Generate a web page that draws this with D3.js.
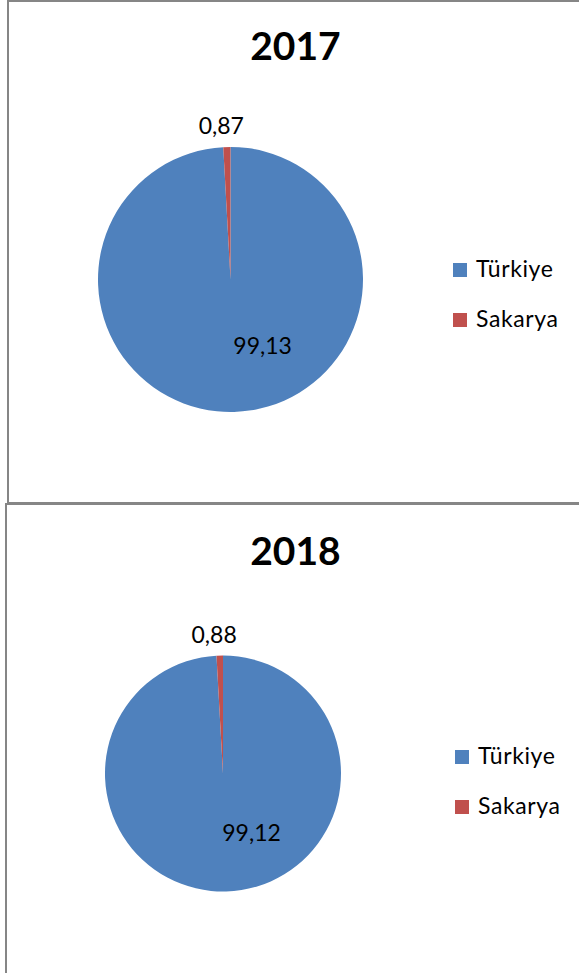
<!DOCTYPE html>
<html>
<head>
<meta charset="utf-8">
<script src="https://cdn.jsdelivr.net/npm/d3@7"></script>
<style>
  html, body { margin: 0; padding: 0; background: #fff; }
  svg { display: block; }
  text { font-family: Lato, "Noto Sans", sans-serif; fill: #000; }
</style>
</head>
<body>
<svg id="chart" width="579" height="973"></svg>
<script>
// Share of Türkiye vs Sakarya, one pie per year
const years = ["2017", "2018"];
const categories = ["Türkiye", "Sakarya"];
const values2017 = [99.13, 0.87];
const values2018 = [99.12, 0.88];
const seriesByYear = [values2017, values2018];
const colors = ["#4F81BD", "#C0504D"];

// Panel frames and pie geometry
const panels = [
  { x: 8, y: 1, w: 600, h: 502, cx: 230.5, cy: 279.5, r: 132.5, titleY: 60, legendX: 453, legendY: 263 },
  { x: 6, y: 504, w: 600, h: 500, cx: 223, cy: 773.5, r: 118, titleY: 565, legendX: 455, legendY: 750 }
];

const svg = d3.select("#chart");
const fmt = v => d3.format(".2f")(v).replace(".", ",");
const color = d3.scaleOrdinal().domain(categories).range(colors);

const pie = d3.pie().sort(null).value(d => d.value).startAngle(0).endAngle(2 * Math.PI);

panels.forEach((p, i) => {
  const data = categories.map((c, k) => ({ name: c, value: seriesByYear[i][k] }));
  const g = svg.append("g");

  // frame
  g.append("rect")
    .attr("x", p.x).attr("y", p.y)
    .attr("width", p.w).attr("height", p.h)
    .attr("fill", "#fff")
    .attr("stroke", "#868686").attr("stroke-width", 2);

  // title
  g.append("text")
    .attr("x", 295.5).attr("y", p.titleY)
    .attr("text-anchor", "middle")
    .attr("font-size", 39).attr("font-weight", 700)
    .text(years[i]);

  const arcs = pie(data);
  const arc = d3.arc().innerRadius(0).outerRadius(p.r);
  const pg = g.append("g").attr("transform", `translate(${p.cx},${p.cy})`);

  pg.selectAll("path").data(arcs).join("path")
    .attr("d", arc)
    .attr("fill", d => color(d.data.name));

  // large slice: label inside, lower right; small slice: label just outside the rim
  const outer = d3.arc().innerRadius(p.r + 21).outerRadius(p.r + 21);
  pg.selectAll("text.lbl").data(arcs).join("text")
    .attr("class", "lbl")
    .attr("text-anchor", "middle")
    .attr("font-size", 23)
    .attr("dy", "0.36em")
    .attr("transform", d => {
      const big = d.endAngle - d.startAngle > 0.5;
      if (big) {
        const a = 2.69, k = 0.555 * p.r;
        return `translate(${Math.sin(a) * k},${-Math.cos(a) * k})`;
      }
      const c = outer.centroid(d);
      return `translate(${c[0] - 5},${c[1]})`;
    })
    .text(d => fmt(d.data.value));

  // legend
  const lg = g.append("g").attr("transform", `translate(${p.legendX},${p.legendY})`);
  const items = lg.selectAll("g").data(categories).join("g")
    .attr("transform", (d, k) => `translate(0,${k * 50})`);
  items.append("rect")
    .attr("width", 14).attr("height", 14)
    .attr("fill", d => color(d));
  items.append("text")
    .attr("x", 23).attr("y", 14)
    .attr("font-size", 23)
    .attr("letter-spacing", 0.6)
    .text(d => d);
});
</script>
</body>
</html>
